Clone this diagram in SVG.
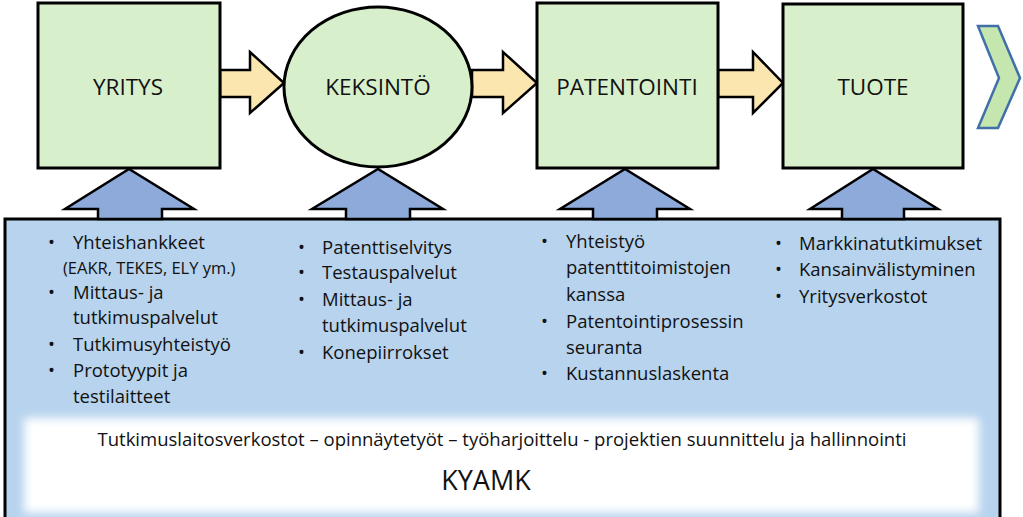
<svg xmlns="http://www.w3.org/2000/svg" width="1023" height="517" viewBox="0 0 1023 517">
<style>
.n{fill:#d8efcc;stroke:#000;stroke-width:3}
.ya{fill:#fbe6b0;stroke:#000;stroke-width:2.5}
.ba{fill:#8eaadb;stroke:#000;stroke-width:2.5}
text{font-family:"Open Sans","Liberation Sans",sans-serif;fill:#111}
.l{font-size:22.5px;text-anchor:middle}
.b{font-size:18.5px}
</style>
<defs>
<filter id="g" x="-5%" y="-30%" width="110%" height="160%"><feGaussianBlur stdDeviation="5"/></filter>
</defs>
<g id="base">
<rect x="5" y="219" width="995" height="310" fill="#b7d3ee" stroke="#000" stroke-width="3"/>
<rect x="24" y="418" width="955" height="95" fill="#fff" filter="url(#g)"/>
<text x="502" y="446" font-size="18.5" text-anchor="middle">Tutkimuslaitosverkostot – opinnäytetyöt – työharjoittelu - projektien suunnittelu ja hallinnointi</text>
<text x="486" y="490" font-size="27" text-anchor="middle">KYAMK</text>
</g>
<g id="connectors">
<polygon class="ya" points="220,70 250,70 250,52 284,83 250,113 250,97 220,97"/>
<polygon class="ya" points="472,70 503,70 503,52 537,83 503,113 503,97 472,97"/>
<polygon class="ya" points="718,70 753,70 753,52 783,83 753,113 753,97 718,97"/>
<polygon class="ba" points="98,219 98,209 65,209 129,169 194,209 162,209 162,219"/>
<polygon class="ba" points="346,219 346,209 312,209 378,169 443,209 410,209 410,219"/>
<polygon class="ba" points="593,219 593,209 560,209 625,169 690,209 657,209 657,219"/>
<polygon class="ba" points="842,219 842,209 810,209 873,169 938,209 904,209 904,219"/>
</g>
<g id="yritys"><rect class="n" x="38" y="3" width="182" height="165"/><text class="l" x="128" y="95">YRITYS</text></g>
<g id="keksinto"><ellipse class="n" cx="378" cy="87" rx="94" ry="80"/><text class="l" x="378" y="95">KEKSINTÖ</text></g>
<g id="patentointi"><rect class="n" x="537" y="3" width="181" height="165"/><text class="l" x="627" y="95">PATENTOINTI</text></g>
<g id="tuote"><rect class="n" x="783" y="4" width="180" height="164"/><text class="l" x="873" y="95">TUOTE</text></g>
<g id="chevron"><polygon points="978,26 998,26 1020,78 998,128 978,128 999,78" fill="#c6e6b0" stroke="#3f70a8" stroke-width="2.5"/></g>
<g id="col1">
<text class="b" x="48" y="249">•</text><text class="b" x="73" y="249">Yhteishankkeet</text>
<text x="63" y="274" font-size="16.5">(EAKR, TEKES, ELY  ym.)</text>
<text class="b" x="48" y="299">•</text><text class="b" x="73" y="299">Mittaus- ja</text>
<text class="b" x="73" y="324">tutkimuspalvelut</text>
<text class="b" x="48" y="351">•</text><text class="b" x="73" y="351">Tutkimusyhteistyö</text>
<text class="b" x="48" y="377">•</text><text class="b" x="73" y="377">Prototyypit ja</text>
<text class="b" x="73" y="403">testilaitteet</text>
</g>
<g id="col2">
<text class="b" x="298" y="254">•</text><text class="b" x="322" y="254">Patenttiselvitys</text>
<text class="b" x="298" y="279">•</text><text class="b" x="322" y="279">Testauspalvelut</text>
<text class="b" x="298" y="306">•</text><text class="b" x="322" y="306">Mittaus- ja</text>
<text class="b" x="322" y="332">tutkimuspalvelut</text>
<text class="b" x="298" y="359">•</text><text class="b" x="322" y="359">Konepiirrokset</text>
</g>
<g id="col3">
<text class="b" x="541" y="248">•</text><text class="b" x="566" y="248">Yhteistyö</text>
<text class="b" x="566" y="274">patenttitoimistojen</text>
<text class="b" x="566" y="301">kanssa</text>
<text class="b" x="541" y="328">•</text><text class="b" x="566" y="328">Patentointiprosessin</text>
<text class="b" x="566" y="354">seuranta</text>
<text class="b" x="541" y="380">•</text><text class="b" x="566" y="380">Kustannuslaskenta</text>
</g>
<g id="col4">
<text class="b" x="775" y="250">•</text><text class="b" x="799" y="250">Markkinatutkimukset</text>
<text class="b" x="775" y="276">•</text><text class="b" x="799" y="276">Kansainvälistyminen</text>
<text class="b" x="775" y="303">•</text><text class="b" x="799" y="303">Yritysverkostot</text>
</g>
</svg>
